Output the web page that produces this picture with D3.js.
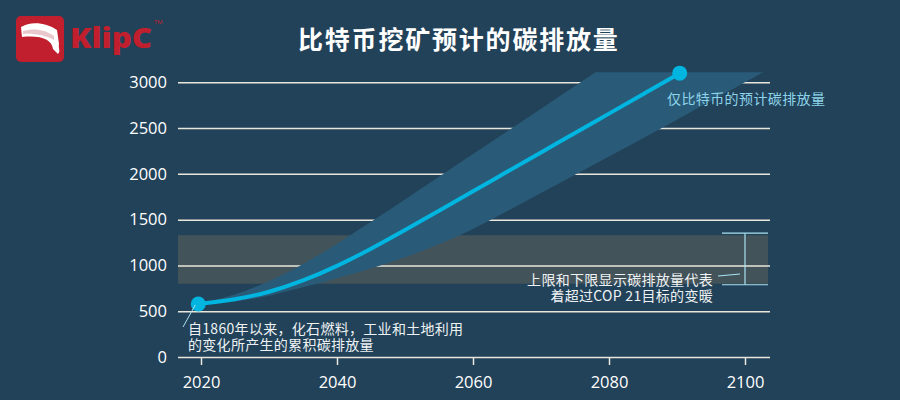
<!DOCTYPE html>
<html>
<head>
<meta charset="utf-8">
<script src="https://cdn.jsdelivr.net/npm/d3@7"></script>
<style>
  html, body { margin: 0; padding: 0; background: #224259; }
  svg { display: block; }
  text { font-family: "Open Sans", "Noto Sans CJK SC", sans-serif; }
  .cjk { font-family: "Noto Sans CJK SC", "Open Sans", sans-serif; }
</style>
</head>
<body>
<svg id="chart" width="900" height="400"></svg>
<script>
// ---------- data ----------
const title = "比特币挖矿预计的碳排放量";
const xTicks = [2020, 2040, 2060, 2080, 2100];
const yTicks = [0, 500, 1000, 1500, 2000, 2500, 3000];

// projected cumulative emissions (bitcoin only) – central line
const lineYears  = [2019.6, 2025, 2030, 2035, 2040, 2045, 2050, 2055, 2060, 2065, 2070, 2075, 2080, 2085, 2090.4];
const lineValues = [579, 625, 705, 830, 990, 1180, 1385, 1598, 1810, 2022, 2234, 2446, 2658, 2870, 3100];

// upper / lower range of the projection
const bandYears  = [2019.6, 2025, 2030, 2035, 2040, 2045, 2050, 2055, 2060, 2065, 2070, 2075, 2080, 2085, 2090, 2095, 2100, 2105];
const bandUpper  = [579, 675, 820, 1010, 1235, 1475, 1720, 1968, 2216, 2464, 2712, 2960, 3208, 3456, 3704, 3952, 4200, 4448];
const bandLower  = [579, 600, 665, 760, 860, 965, 1085, 1225, 1395, 1590, 1790, 1990, 2190, 2390, 2590, 2795, 3000, 3205];

// COP21 warming thresholds (grey band)
const copRange = [800, 1330];

const labelLine = "仅比特币的预计碳排放量";
const noteLeft = ["自1860年以来，化石燃料，工业和土地利用", "的变化所产生的累积碳排放量"];
const noteRight = ["上限和下限显示碳排放量代表", "着超过COP 21目标的变暖"];

// ---------- layout ----------
const svg = d3.select("#chart");
const plotLeft = 178, plotRight = 770;
const x = d3.scaleLinear().domain([2020, 2100]).range([201, 745]);
const y = d3.scaleLinear().domain([0, 3000]).range([357, 82.3]);
const yTop = 3110;

const colBg = "#224259", colFan = "#295a77", colBand = "#43535a",
      colLine = "#00b5e0", colGrid = "#e9e6dc", colAccent = "#a9e3f2";

svg.append("rect").attr("width", 900).attr("height", 400).attr("fill", colBg);

// clip to plot top
svg.append("defs").append("clipPath").attr("id", "plotClip")
  .append("rect").attr("x", plotLeft).attr("y", y(yTop))
  .attr("width", plotRight - plotLeft).attr("height", y(0) - y(yTop));

// ---------- logo ----------
const logo = svg.append("g");
logo.append("rect").attr("x", 16).attr("y", 16).attr("width", 48).attr("height", 46)
  .attr("rx", 5).attr("fill", "#c11f2e");
logo.append("path")
  .attr("d", "M21,27 C30,21 46,22 57,30 L59,44 C58,48 61,51 58,54 L53,49 C52,40 42,35 22,37 Z")
  .attr("fill", "#ffffff");
logo.append("path")
  .attr("d", "M23,31 C33,28 45,29 54,36 L54,40 C45,35 33,33 23,34 Z")
  .attr("fill", "#e8c8cc");
logo.append("text").attr("x", 70).attr("y", 48)
  .attr("font-family", "Lato, 'Open Sans', sans-serif")
  .attr("font-weight", 900).attr("font-size", 29).attr("fill", "#c11f2e")
  .attr("textLength", 82).attr("lengthAdjust", "spacingAndGlyphs").text("KlipC");
logo.append("text").attr("x", 154).attr("y", 24)
  .attr("font-size", 6).attr("fill", "#c11f2e").text("TM");

// ---------- title ----------
svg.append("text").attr("class", "cjk")
  .attr("x", 298).attr("y", 49)
  .attr("font-size", 25).attr("font-weight", 700).attr("fill", "#ffffff")
  .attr("letter-spacing", 1.8).text(title);

// ---------- COP21 grey band ----------
svg.append("rect")
  .attr("x", plotLeft).attr("y", y(copRange[1]))
  .attr("width", 768 - plotLeft).attr("height", y(copRange[0]) - y(copRange[1]))
  .attr("fill", colBand);

// ---------- y axis with gridlines ----------
const yAxis = svg.append("g").attr("transform", `translate(${plotLeft},0)`)
  .call(d3.axisLeft(y).tickValues(yTicks).tickFormat(d3.format("d"))
        .tickSize(-(plotRight - plotLeft)).tickPadding(11));
yAxis.select(".domain").remove();
yAxis.selectAll(".tick line").attr("stroke", colGrid).attr("stroke-width", 1.5);
yAxis.selectAll(".tick text").attr("fill", "#ffffff").attr("font-size", 16.5)
  .attr("font-family", "'Open Sans', sans-serif");

// ---------- projection fan ----------
const bandData = bandYears.map((yr, i) => ({ yr, lo: bandLower[i], hi: bandUpper[i] }));
svg.append("path").datum(bandData)
  .attr("clip-path", "url(#plotClip)")
  .attr("fill", colFan)
  .attr("d", d3.area().x(d => x(d.yr)).y0(d => y(d.lo)).y1(d => y(d.hi)).curve(d3.curveBasis));

// ---------- central line ----------
const lineData = lineYears.map((yr, i) => ({ yr, v: lineValues[i] }));
svg.append("path").datum(lineData)
  .attr("fill", "none").attr("stroke", colLine).attr("stroke-width", 4)
  .attr("stroke-linecap", "round")
  .attr("d", d3.line().x(d => x(d.yr)).y(d => y(d.v)).curve(d3.curveBasis));

const ends = [lineData[0], lineData[lineData.length - 1]];
svg.selectAll("circle.end").data(ends).join("circle")
  .attr("class", "end")
  .attr("cx", d => x(d.yr)).attr("cy", d => y(d.v)).attr("r", 7.5)
  .attr("fill", colLine);

// ---------- x axis ----------
const xAxis = svg.append("g").attr("transform", `translate(0,${y(0)})`)
  .call(d3.axisBottom(x).tickValues(xTicks).tickSize(8).tickPadding(11)
        .tickSizeOuter(0).tickFormat(d3.format("d")));
xAxis.select(".domain").remove();
xAxis.selectAll(".tick line").attr("stroke", colGrid).attr("stroke-width", 1.5);
xAxis.selectAll(".tick text").attr("fill", "#ffffff").attr("font-size", 16.5)
  .attr("font-family", "'Open Sans', sans-serif");

// ---------- annotations ----------
// line label
svg.append("text").attr("class", "cjk")
  .attr("x", 667).attr("y", 104)
  .attr("font-size", 14).attr("letter-spacing", 0.4)
  .attr("fill", "#8dd4ea").text(labelLine);

// left note + pointer
svg.append("line")
  .attr("x1", x(lineYears[0]) - 3).attr("y1", y(lineValues[0]) + 1)
  .attr("x2", 183).attr("y2", 327)
  .attr("stroke", colAccent).attr("stroke-width", 1);
const tl = svg.append("text").attr("class", "cjk")
  .attr("font-size", 14).attr("letter-spacing", 0.3).attr("fill", "#eef2f4");
tl.selectAll("tspan").data(noteLeft).join("tspan")
  .attr("x", 188).attr("y", (d, i) => 334 + i * 16).text(d => d);

// right note + bracket
const bx = 745, bTop = y(copRange[1]) - 2, bBot = y(copRange[0]) + 1;
const br = svg.append("g").attr("stroke", colAccent).attr("stroke-width", 1.2);
br.append("line").attr("x1", bx).attr("x2", bx).attr("y1", bTop).attr("y2", bBot);
br.append("line").attr("x1", 722).attr("x2", 768).attr("y1", bTop).attr("y2", bTop);
br.append("line").attr("x1", 722).attr("x2", 768).attr("y1", bBot).attr("y2", bBot);
br.append("line").attr("x1", 718).attr("x2", 740).attr("y1", 276).attr("y2", 274);

const tr = svg.append("text").attr("class", "cjk")
  .attr("text-anchor", "end")
  .attr("font-size", 14).attr("letter-spacing", 0.3).attr("fill", "#eef2f4");
tr.selectAll("tspan").data(noteRight).join("tspan")
  .attr("x", 713).attr("y", (d, i) => 285 + i * 16).text(d => d);
</script>
</body>
</html>
